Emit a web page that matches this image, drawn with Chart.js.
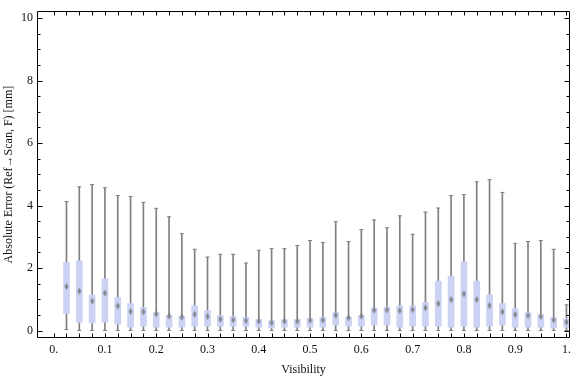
<!DOCTYPE html>
<html>
<head>
<meta charset="utf-8">
<script src="https://cdn.jsdelivr.net/npm/chart.js@4.4.1/dist/chart.umd.min.js"></script>
<style>
  html, body { margin: 0; padding: 0; background: #fff; }
  #wrap { width: 576px; height: 377px; }
</style>
</head>
<body>
<div id="wrap"><canvas id="c" width="576" height="377"></canvas></div>
<script>
// ---- data ----
const visibility = [0.025,0.05,0.075,0.1,0.125,0.15,0.175,0.2,0.225,0.25,
                    0.275,0.3,0.325,0.35,0.375,0.4,0.425,0.45,0.475,0.5,
                    0.525,0.55,0.575,0.6,0.625,0.65,0.675,0.7,0.725,0.75,
                    0.775,0.8,0.825,0.85,0.875,0.9,0.925,0.95,0.975,1.0];
const whiskerMax = [4.13,4.60,4.67,4.57,4.32,4.29,4.10,3.91,3.64,3.10,
                    2.60,2.35,2.44,2.44,2.16,2.57,2.62,2.62,2.72,2.88,
                    2.82,3.48,2.85,3.23,3.54,3.29,3.67,3.08,3.79,3.92,
                    4.32,4.35,4.76,4.83,4.42,2.79,2.85,2.88,2.60,0.82];
const upperQuartile = [2.17,2.23,1.14,1.65,1.05,0.86,0.73,0.57,0.48,0.45,
                    0.79,0.64,0.48,0.45,0.42,0.35,0.32,0.35,0.35,0.38,
                    0.42,0.57,0.42,0.48,0.72,0.75,0.79,0.79,0.89,1.58,
                    1.73,2.20,1.58,1.14,0.86,0.70,0.57,0.51,0.42,0.38];
const medianVal = [1.41,1.26,0.94,1.20,0.79,0.61,0.60,0.53,0.46,0.43,
                    0.52,0.45,0.36,0.34,0.32,0.30,0.25,0.30,0.30,0.33,
                    0.33,0.49,0.41,0.46,0.65,0.66,0.64,0.67,0.73,0.86,
                    0.99,1.17,0.99,0.80,0.60,0.51,0.48,0.45,0.34,0.27];
const lowerQuartile = [0.55,0.26,0.24,0.27,0.20,0.11,0.14,0.11,0.11,0.11,
                    0.14,0.14,0.14,0.14,0.14,0.11,0.08,0.11,0.11,0.11,
                    0.11,0.18,0.14,0.14,0.18,0.18,0.11,0.14,0.14,0.14,
                    0.11,0.14,0.11,0.14,0.18,0.11,0.11,0.11,0.08,0.11];
const whiskerMin = [0.03,0,0,0,0,0,0,0,0,0,
                    0,0,0,0,0,0,0,0,0,0,
                    0,0,0,0,0,0,0,0,0,0,
                    0,0,0,0,0,0,0,0,0,0];
const xTickValues = [0,0.1,0.2,0.3,0.4,0.5,0.6,0.7,0.8,0.9,1.0];
const xTickLabels = ['0.','0.1','0.2','0.3','0.4','0.5','0.6','0.7','0.8','0.9','1.'];
const yTickValues = [0,2,4,6,8,10];

// ---- styling ----
const BOX = 'rgb(203,210,244)';
const GREY = 'rgb(128,128,128)';
const FONT = {family: '"Liberation Serif","Times New Roman",serif', size: 12};

// marker image: small vertical diamond
const mk = document.createElement('canvas');
mk.width = 5; mk.height = 8;
(function(){
  const g = mk.getContext('2d');
  g.fillStyle = 'rgba(115,115,115,0.8)';
  g.beginPath();
  g.moveTo(2.5,0.5); g.lineTo(4.5,4); g.lineTo(2.5,7.5); g.lineTo(0.5,4); g.closePath();
  g.fill();
})();

const boxes = visibility.map((x,i)=>({x:x, y:[lowerQuartile[i], upperQuartile[i]]}));
const whiskers = visibility.map((x,i)=>({x:x, y:[whiskerMin[i], whiskerMax[i]]}));
const caps = [];
visibility.forEach((x,i)=>{ caps.push({x:x,y:whiskerMax[i]}); caps.push({x:x,y:whiskerMin[i]}); });
const medians = visibility.map((x,i)=>({x:x, y:medianVal[i]}));

const frameTicks = {
  id: 'frameTicks',
  afterDatasetsDraw(chart) {
    const {ctx, chartArea: a, scales: {x, y}} = chart;
    ctx.save();
    ctx.strokeStyle = '#000';
    ctx.lineWidth = 1;
    const L = Math.round(a.left)+0.5, R = Math.round(a.right)-0.5;
    const T = Math.round(a.top)+0.5, B = Math.round(a.bottom)-0.5;
    ctx.beginPath();
    ctx.rect(L, T, R-L, B-T);
    for (let k = 0; k <= 40; k++) {
      const px = Math.round(x.getPixelForValue(k*0.025)) + 0.5;
      ctx.moveTo(px, B); ctx.lineTo(px, B-4);
      ctx.moveTo(px, T); ctx.lineTo(px, T+4);
    }
    for (let k = 0; k <= 20; k++) {
      const v = k*0.5;
      const len = (v % 2 === 0) ? 5 : 3;
      const py = Math.round(y.getPixelForValue(v)) + 0.5;
      ctx.moveTo(L, py); ctx.lineTo(L+len, py);
      ctx.moveTo(R, py); ctx.lineTo(R-len, py);
    }
    ctx.stroke();
    ctx.restore();
  }
};

new Chart(document.getElementById('c'), {
  type: 'bar',
  data: {
    datasets: [
      { type: 'scatter', data: medians, pointStyle: mk, pointRadius: 4, pointHoverRadius: 4 },
      { type: 'bar', data: boxes, backgroundColor: BOX, barThickness: 6, grouped: false, borderWidth: 0 },
      { type: 'scatter', data: caps, pointStyle: 'line', pointRadius: 2, pointHoverRadius: 2,
        borderColor: GREY, borderWidth: 1 },
      { type: 'bar', data: whiskers, backgroundColor: GREY, barThickness: 1, grouped: false, borderWidth: 0 }
    ]
  },
  options: {
    responsive: false,
    animation: false,
    events: [],
    layout: { padding: { top: 4, right: 1, left: 0, bottom: 0 } },
    plugins: { legend: { display: false }, tooltip: { enabled: false } },
    scales: {
      x: {
        type: 'linear', min: -0.0325, max: 1.007, offset: false,
        grid: { display: false, drawTicks: false },
        border: { display: false },
        afterBuildTicks: s => { s.ticks = xTickValues.map(v => ({value: v})); },
        afterFit: s => { s.height = 39; },
        ticks: {
          font: FONT, color: '#111', padding: 5, maxRotation: 0, autoSkip: false,
          callback: (v) => { const i = xTickValues.findIndex(t => Math.abs(t - v) < 1e-9); return i >= 0 ? xTickLabels[i] : ''; }
        },
        title: { display: true, text: 'Visibility', font: FONT, color: '#111', padding: {top: 4, bottom: 0} }
      },
      y: {
        type: 'linear', min: -0.24, max: 10.22,
        grid: { display: false, drawTicks: false },
        border: { display: false },
        afterBuildTicks: s => { s.ticks = yTickValues.map(v => ({value: v})); },
        afterFit: s => { s.width = 37; },
        ticks: { font: FONT, color: '#111', padding: 4, autoSkip: false },
        title: { display: true, text: 'Absolute Error (Ref\u2192Scan, F) [mm]', font: FONT, color: '#111', padding: {top: 2, bottom: 0} }
      }
    }
  },
  plugins: [frameTicks]
});
</script>
</body>
</html>
